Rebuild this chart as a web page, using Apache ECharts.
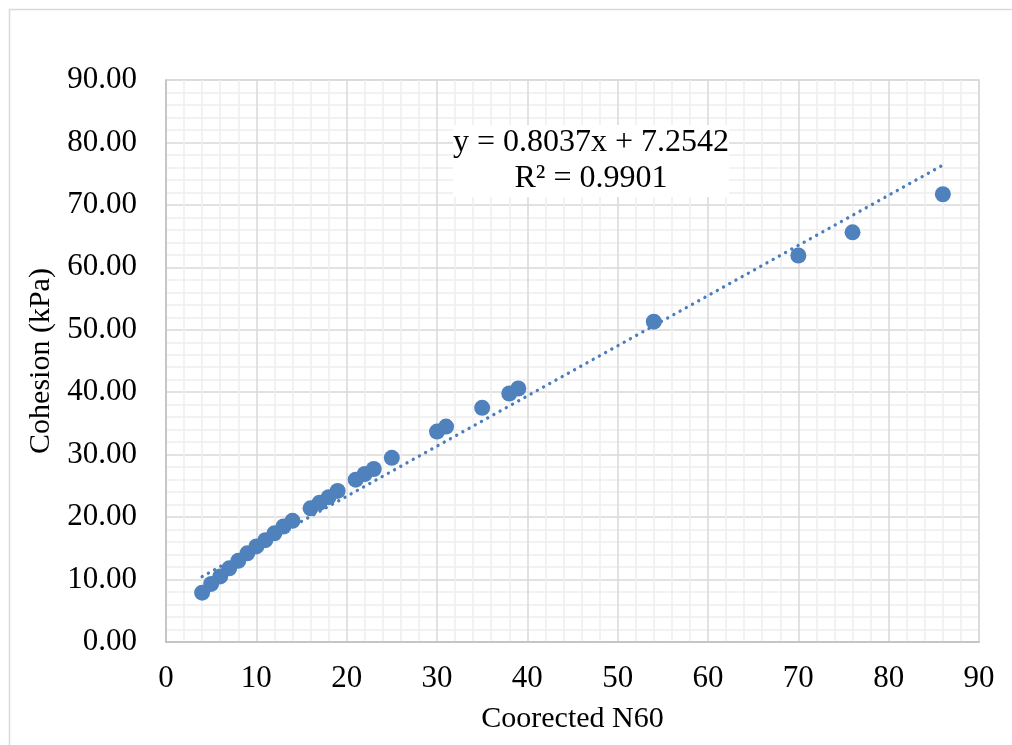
<!DOCTYPE html>
<html>
<head>
<meta charset="utf-8">
<script src="https://cdn.jsdelivr.net/npm/echarts@6/dist/echarts.min.js"></script>
<style>html,body{margin:0;padding:0;background:#fff;}#c{width:1012px;height:745px;}</style>
</head>
<body>
<div id="c"></div>
<script>
const correctedN60 = [4,5,6,7,8,9,10,11,12,13,14,16,17,18,19,21,22,23,25,30,31,35,38,39,54,70,76,86];
const cohesion = [7.9,9.3,10.5,11.8,13.0,14.2,15.3,16.3,17.4,18.5,19.4,21.4,22.3,23.2,24.2,26.0,26.9,27.7,29.5,33.7,34.5,37.5,39.8,40.6,51.3,61.9,65.6,71.7];
const trendX = [4, 86];
const trendY = [10.47, 76.37];
const xTicks = [0,10,20,30,40,50,60,70,80,90];
const yTicks = [0,10,20,30,40,50,60,70,80,90];
const equationText = 'y = 0.8037x + 7.2542\nR² = 0.9901';

const FONT = '"Liberation Serif", "Times New Roman", serif';
const chart = echarts.init(document.getElementById('c'), null, {renderer:'canvas'});
chart.setOption({
  animation: false,
  backgroundColor: '#fff',
  grid: {left:166, right:33, top:80, bottom:103, show:true, borderColor:'#d9d9d9', borderWidth:1.5},
  xAxis: {
    type:'value', min:xTicks[0], max:xTicks[xTicks.length-1], interval:10,
    name:'Coorected N60', nameLocation:'middle', nameGap:62,
    nameTextStyle:{fontFamily:FONT, fontSize:30, color:'#000'},
    axisLine:{show:true, lineStyle:{color:'#bfbfbf', width:1.5}},
    axisTick:{show:false},
    axisLabel:{fontFamily:FONT, fontSize:31, color:'#000', margin:21},
    splitLine:{show:true, lineStyle:{color:'#d9d9d9', width:1.5}},
    minorTick:{show:false, splitNumber:5},
    minorSplitLine:{show:true, lineStyle:{color:'#eeeeee', width:1.5}}
  },
  yAxis: {
    type:'value', min:yTicks[0], max:yTicks[yTicks.length-1], interval:10,
    name:'Cohesion (kPa)', nameLocation:'middle', nameGap:106,
    nameTextStyle:{fontFamily:FONT, fontSize:30, color:'#000'},
    axisLine:{show:true, lineStyle:{color:'#bfbfbf', width:1.5}},
    axisTick:{show:false},
    axisLabel:{fontFamily:FONT, fontSize:31, color:'#000', margin:29, formatter:v=>v.toFixed(2)},
    splitLine:{show:true, lineStyle:{color:'#d9d9d9', width:1.5}},
    minorTick:{show:false, splitNumber:5},
    minorSplitLine:{show:true, lineStyle:{color:'#eeeeee', width:1.5}}
  },
  series: [
    {
      type:'line', data: trendX.map((x,i)=>[x, trendY[i]]), symbol:'none', z:3,
      lineStyle:{color:'#4a7ebb', width:3.3, type:[0.1,7], cap:'round'}
    },
    {
      type:'scatter', data: correctedN60.map((x,i)=>[x, cohesion[i]]), symbol:'circle', symbolSize:16, z:4,
      itemStyle:{color:'#4f81bd', opacity:1}
    }
  ],
  graphic: [
    {type:'rect', left:7, top:7, shape:{width:1100, height:800}, style:{fill:'none', stroke:'#d9d9d9', lineWidth:1.5}, silent:true, z:-10},
    {type:'text', x:591, y:161, z:10,
     style:{text:equationText, font:'32px ' + FONT, fill:'#000', align:'center', verticalAlign:'middle', lineHeight:36, backgroundColor:'#fff', padding:[0,0]}}
  ]
});
</script>
</body>
</html>
